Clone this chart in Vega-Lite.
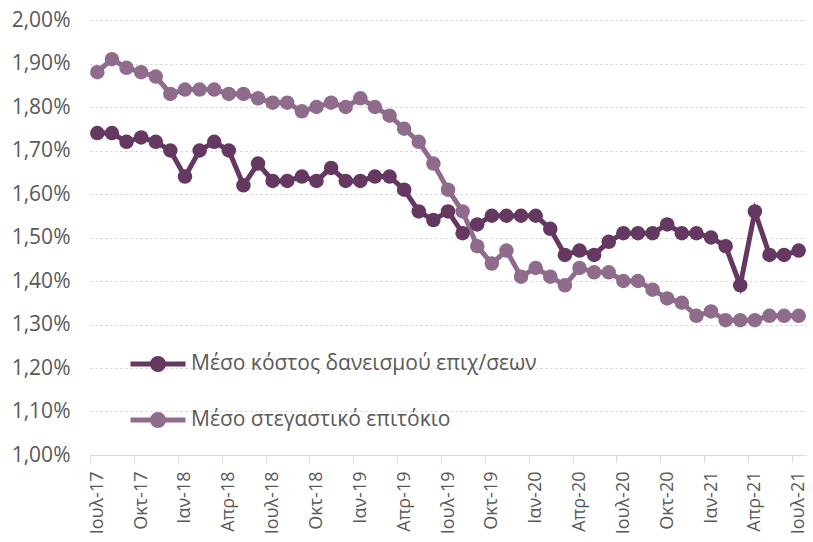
{
  "$schema": "https://vega.github.io/schema/vega-lite/v6.json",
  "width": 716,
  "height": 435,
  "autosize": {"type": "none"},
  "padding": {"left": 90, "top": 20, "right": 7, "bottom": 87},
  "background": "white",
  "config": {
    "view": {"stroke": null},
    "font": "Open Sans"
  },
  "data": {
    "values": [
      {"m": "Ιουλ-17", "Μέσο κόστος δανεισμού επιχ/σεων": 1.74, "Μέσο στεγαστικό επιτόκιο": 1.88},
      {"m": "Αυγ-17", "Μέσο κόστος δανεισμού επιχ/σεων": 1.74, "Μέσο στεγαστικό επιτόκιο": 1.91},
      {"m": "Σεπ-17", "Μέσο κόστος δανεισμού επιχ/σεων": 1.72, "Μέσο στεγαστικό επιτόκιο": 1.89},
      {"m": "Οκτ-17", "Μέσο κόστος δανεισμού επιχ/σεων": 1.73, "Μέσο στεγαστικό επιτόκιο": 1.88},
      {"m": "Νοε-17", "Μέσο κόστος δανεισμού επιχ/σεων": 1.72, "Μέσο στεγαστικό επιτόκιο": 1.87},
      {"m": "Δεκ-17", "Μέσο κόστος δανεισμού επιχ/σεων": 1.70, "Μέσο στεγαστικό επιτόκιο": 1.83},
      {"m": "Ιαν-18", "Μέσο κόστος δανεισμού επιχ/σεων": 1.64, "Μέσο στεγαστικό επιτόκιο": 1.84},
      {"m": "Φεβ-18", "Μέσο κόστος δανεισμού επιχ/σεων": 1.70, "Μέσο στεγαστικό επιτόκιο": 1.84},
      {"m": "Μαρ-18", "Μέσο κόστος δανεισμού επιχ/σεων": 1.72, "Μέσο στεγαστικό επιτόκιο": 1.84},
      {"m": "Απρ-18", "Μέσο κόστος δανεισμού επιχ/σεων": 1.70, "Μέσο στεγαστικό επιτόκιο": 1.83},
      {"m": "Μαϊ-18", "Μέσο κόστος δανεισμού επιχ/σεων": 1.62, "Μέσο στεγαστικό επιτόκιο": 1.83},
      {"m": "Ιουν-18", "Μέσο κόστος δανεισμού επιχ/σεων": 1.67, "Μέσο στεγαστικό επιτόκιο": 1.82},
      {"m": "Ιουλ-18", "Μέσο κόστος δανεισμού επιχ/σεων": 1.63, "Μέσο στεγαστικό επιτόκιο": 1.81},
      {"m": "Αυγ-18", "Μέσο κόστος δανεισμού επιχ/σεων": 1.63, "Μέσο στεγαστικό επιτόκιο": 1.81},
      {"m": "Σεπ-18", "Μέσο κόστος δανεισμού επιχ/σεων": 1.64, "Μέσο στεγαστικό επιτόκιο": 1.79},
      {"m": "Οκτ-18", "Μέσο κόστος δανεισμού επιχ/σεων": 1.63, "Μέσο στεγαστικό επιτόκιο": 1.80},
      {"m": "Νοε-18", "Μέσο κόστος δανεισμού επιχ/σεων": 1.66, "Μέσο στεγαστικό επιτόκιο": 1.81},
      {"m": "Δεκ-18", "Μέσο κόστος δανεισμού επιχ/σεων": 1.63, "Μέσο στεγαστικό επιτόκιο": 1.80},
      {"m": "Ιαν-19", "Μέσο κόστος δανεισμού επιχ/σεων": 1.63, "Μέσο στεγαστικό επιτόκιο": 1.82},
      {"m": "Φεβ-19", "Μέσο κόστος δανεισμού επιχ/σεων": 1.64, "Μέσο στεγαστικό επιτόκιο": 1.80},
      {"m": "Μαρ-19", "Μέσο κόστος δανεισμού επιχ/σεων": 1.64, "Μέσο στεγαστικό επιτόκιο": 1.78},
      {"m": "Απρ-19", "Μέσο κόστος δανεισμού επιχ/σεων": 1.61, "Μέσο στεγαστικό επιτόκιο": 1.75},
      {"m": "Μαϊ-19", "Μέσο κόστος δανεισμού επιχ/σεων": 1.56, "Μέσο στεγαστικό επιτόκιο": 1.72},
      {"m": "Ιουν-19", "Μέσο κόστος δανεισμού επιχ/σεων": 1.54, "Μέσο στεγαστικό επιτόκιο": 1.67},
      {"m": "Ιουλ-19", "Μέσο κόστος δανεισμού επιχ/σεων": 1.56, "Μέσο στεγαστικό επιτόκιο": 1.61},
      {"m": "Αυγ-19", "Μέσο κόστος δανεισμού επιχ/σεων": 1.51, "Μέσο στεγαστικό επιτόκιο": 1.56},
      {"m": "Σεπ-19", "Μέσο κόστος δανεισμού επιχ/σεων": 1.53, "Μέσο στεγαστικό επιτόκιο": 1.48},
      {"m": "Οκτ-19", "Μέσο κόστος δανεισμού επιχ/σεων": 1.55, "Μέσο στεγαστικό επιτόκιο": 1.44},
      {"m": "Νοε-19", "Μέσο κόστος δανεισμού επιχ/σεων": 1.55, "Μέσο στεγαστικό επιτόκιο": 1.47},
      {"m": "Δεκ-19", "Μέσο κόστος δανεισμού επιχ/σεων": 1.55, "Μέσο στεγαστικό επιτόκιο": 1.41},
      {"m": "Ιαν-20", "Μέσο κόστος δανεισμού επιχ/σεων": 1.55, "Μέσο στεγαστικό επιτόκιο": 1.43},
      {"m": "Φεβ-20", "Μέσο κόστος δανεισμού επιχ/σεων": 1.52, "Μέσο στεγαστικό επιτόκιο": 1.41},
      {"m": "Μαρ-20", "Μέσο κόστος δανεισμού επιχ/σεων": 1.46, "Μέσο στεγαστικό επιτόκιο": 1.39},
      {"m": "Απρ-20", "Μέσο κόστος δανεισμού επιχ/σεων": 1.47, "Μέσο στεγαστικό επιτόκιο": 1.43},
      {"m": "Μαϊ-20", "Μέσο κόστος δανεισμού επιχ/σεων": 1.46, "Μέσο στεγαστικό επιτόκιο": 1.42},
      {"m": "Ιουν-20", "Μέσο κόστος δανεισμού επιχ/σεων": 1.49, "Μέσο στεγαστικό επιτόκιο": 1.42},
      {"m": "Ιουλ-20", "Μέσο κόστος δανεισμού επιχ/σεων": 1.51, "Μέσο στεγαστικό επιτόκιο": 1.40},
      {"m": "Αυγ-20", "Μέσο κόστος δανεισμού επιχ/σεων": 1.51, "Μέσο στεγαστικό επιτόκιο": 1.40},
      {"m": "Σεπ-20", "Μέσο κόστος δανεισμού επιχ/σεων": 1.51, "Μέσο στεγαστικό επιτόκιο": 1.38},
      {"m": "Οκτ-20", "Μέσο κόστος δανεισμού επιχ/σεων": 1.53, "Μέσο στεγαστικό επιτόκιο": 1.36},
      {"m": "Νοε-20", "Μέσο κόστος δανεισμού επιχ/σεων": 1.51, "Μέσο στεγαστικό επιτόκιο": 1.35},
      {"m": "Δεκ-20", "Μέσο κόστος δανεισμού επιχ/σεων": 1.51, "Μέσο στεγαστικό επιτόκιο": 1.32},
      {"m": "Ιαν-21", "Μέσο κόστος δανεισμού επιχ/σεων": 1.50, "Μέσο στεγαστικό επιτόκιο": 1.33},
      {"m": "Φεβ-21", "Μέσο κόστος δανεισμού επιχ/σεων": 1.48, "Μέσο στεγαστικό επιτόκιο": 1.31},
      {"m": "Μαρ-21", "Μέσο κόστος δανεισμού επιχ/σεων": 1.39, "Μέσο στεγαστικό επιτόκιο": 1.31},
      {"m": "Απρ-21", "Μέσο κόστος δανεισμού επιχ/σεων": 1.56, "Μέσο στεγαστικό επιτόκιο": 1.31},
      {"m": "Μαϊ-21", "Μέσο κόστος δανεισμού επιχ/σεων": 1.46, "Μέσο στεγαστικό επιτόκιο": 1.32},
      {"m": "Ιουν-21", "Μέσο κόστος δανεισμού επιχ/σεων": 1.46, "Μέσο στεγαστικό επιτόκιο": 1.32},
      {"m": "Ιουλ-21", "Μέσο κόστος δανεισμού επιχ/σεων": 1.47, "Μέσο στεγαστικό επιτόκιο": 1.32}
    ]
  },
  "transform": [
    {"fold": ["Μέσο κόστος δανεισμού επιχ/σεων", "Μέσο στεγαστικό επιτόκιο"], "as": ["s", "v"]}
  ],
  "encoding": {
    "x": {
      "field": "m",
      "type": "nominal",
      "sort": null,
      "scale": {"type": "point", "padding": 0.5},
      "axis": {
        "title": null,
        "values": ["Ιουλ-17", "Οκτ-17", "Ιαν-18", "Απρ-18", "Ιουλ-18", "Οκτ-18", "Ιαν-19", "Απρ-19", "Ιουλ-19", "Οκτ-19", "Ιαν-20", "Απρ-20", "Ιουλ-20", "Οκτ-20", "Ιαν-21", "Απρ-21", "Ιουλ-21"],
        "labelAngle": -90,
        "labelFontSize": 18,
        "labelColor": "#595959",
        "labelPadding": 9,
        "tickOffset": -7,
        "labelOffset": 7,
        "domainColor": "#D9D9D9",
        "tickColor": "#D9D9D9",
        "tickSize": 7,
        "grid": false
      }
    },
    "y": {
      "field": "v",
      "type": "quantitative",
      "scale": {"domain": [1.0, 2.0], "zero": false, "nice": false},
      "axis": {
        "title": null,
        "values": [1.0, 1.1, 1.2, 1.3, 1.4, 1.5, 1.6, 1.7, 1.8, 1.9, 2.0],
        "labelExpr": "replace(format(datum.value, '.2f'), '.', ',') + '%'",
        "labelFontSize": 21,
        "labelColor": "#595959",
        "labelPadding": 20,
        "domain": false,
        "ticks": false,
        "grid": true,
        "gridColor": "#CFCFCF",
        "gridDash": [2, 3],
        "gridWidth": 1
      }
    },
    "color": {
      "field": "s",
      "type": "nominal",
      "scale": {
        "domain": ["Μέσο κόστος δανεισμού επιχ/σεων", "Μέσο στεγαστικό επιτόκιο"],
        "range": ["#643861", "#8F6C8C"]
      },
      "legend": {
        "title": null,
        "orient": "none",
        "legendX": 38,
        "legendY": 314,
        "symbolType": "M-1,0L1,0M-0.2,0A0.2,0.2,0,1,1,0.2,0A0.2,0.2,0,1,1,-0.2,0Z",
        "symbolSize": 3025,
        "symbolStrokeWidth": 5,
        "labelFontSize": 21,
        "labelLimit": 0,
        "labelColor": "#595959",
        "labelOffset": 3,
        "rowPadding": 10,
        "encode": {
          "symbols": {
            "update": {
              "fill": {"scale": "color", "field": "value"},
              "stroke": {"scale": "color", "field": "value"}
            }
          }
        }
      }
    }
  },
  "layer": [
    {"mark": {"type": "line", "strokeWidth": 5}},
    {"mark": {"type": "circle", "size": 210, "opacity": 1}}
  ]
}
